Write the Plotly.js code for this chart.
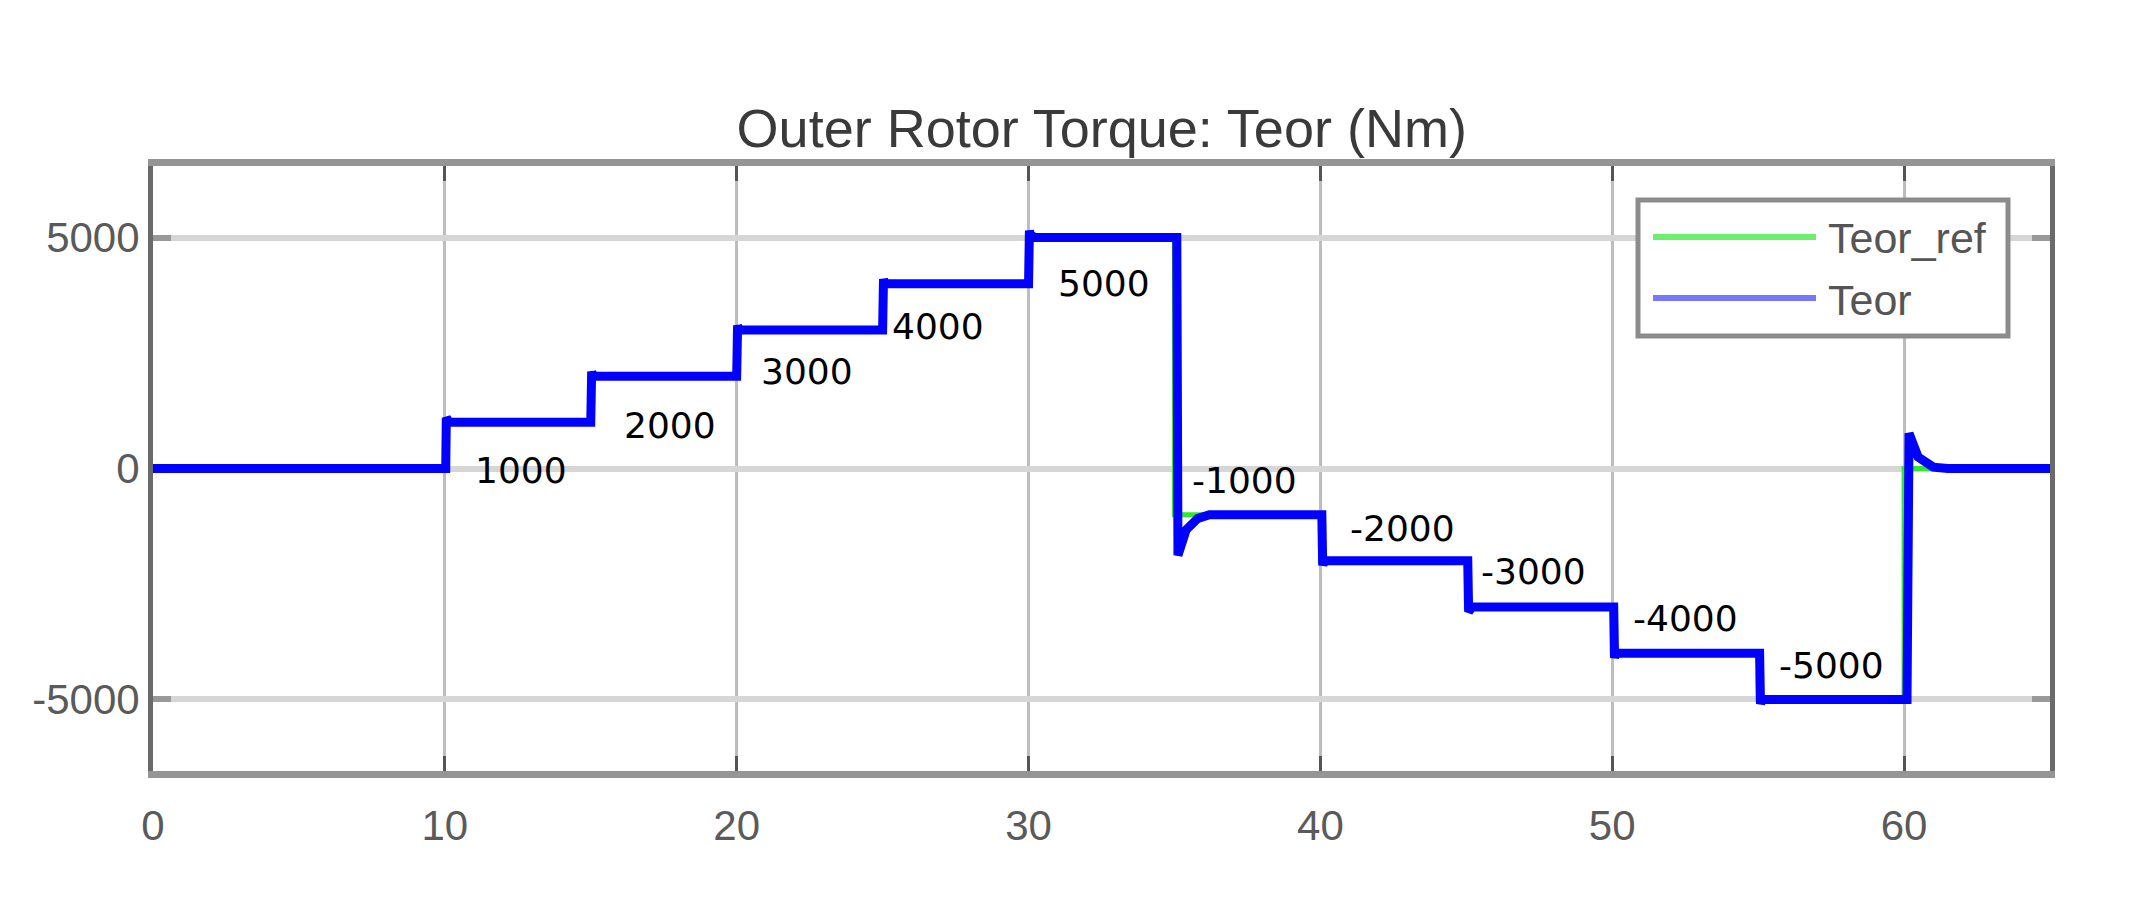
<!DOCTYPE html>
<html lang="en">

<head>
    <meta charset="UTF-8">
    <title>Outer Rotor Torque</title>
    <script src="https://cdn.plot.ly/plotly-3.0.1.min.js" charset="utf-8"></script>
    <style>
        body { margin: 0; background: #fff; }
    </style>
</head>

<body>
    <div id="plot" style="width: 2131px; height: 899px;"></div>

    <script>
        // reference torque, a plain staircase (s, Nm)
        const refTime = [0, 10, 10, 15, 15, 20, 20, 25, 25, 30, 30, 35, 35, 40, 40, 45, 45, 50, 50, 55, 55, 60, 60, 65];
        const refTorque = [0, 0, 1000, 1000, 2000, 2000, 3000, 3000, 4000, 4000, 5000, 5000,
            -1000, -1000, -2000, -2000, -3000, -3000, -4000, -4000, -5000, -5000, 0, 0];

        const teorTime = [0, 10.03, 10.05, 10.15, 15, 15.03, 15.05, 15.15, 20, 20.03, 20.05, 20.15,
            25, 25.03, 25.05, 25.15, 30, 30.03, 30.05, 30.2, 35.08, 35.12, 35.4, 35.8, 36.2, 40.05,
            40.08, 40.1, 40.2, 45.05, 45.08, 45.1, 45.2, 50.05, 50.08, 50.1, 50.2, 55.05, 55.08,
            55.1, 55.2, 60.1, 60.17, 60.48, 61.0, 61.5, 65];
        const teorTorque = [0, 0, 1100, 1000, 1000, 2100, 2050, 2000, 2000, 3100, 3050, 3000,
            3000, 4100, 4050, 4000, 4000, 5150, 5080, 5000, 5000, -1880, -1330, -1080, -1000, -1000,
            -2100, -2050, -2000, -2000, -3100, -3050, -3000, -3000, -4100, -4050, -4000, -4000, -5100,
            -5050, -5000, -5000, 760, 250, 30, 0, 0];

        // step labels written on the chart
        const stepLabels = ['1000', '2000', '3000', '4000', '5000', '-1000', '-2000', '-3000', '-4000', '-5000'];
        const labelTime = [12.6, 17.7, 22.4, 26.9, 32.6, 37.4, 42.8, 47.3, 52.5, 57.5];
        const labelTorque = [-50, 940, 2090, 3070, 4000, -270, -1290, -2220, -3240, -4260];

        const xTicks = [0, 10, 20, 30, 40, 50, 60];
        const yTickVals = [-5000, 0, 5000];
        const yTickText = ['-5000', '0', '5000'];

        const seriesNames = ['Teor_ref', 'Teor'];

        // plot area in pixels, used for the hand drawn legend box
        const plotL = 153, plotR = 2050, plotT = 166, plotB = 771;
        const px = x => (x - plotL) / (plotR - plotL);
        const py = y => (plotB - y) / (plotB - plotT);

        const refTrace = {
            x: refTime,
            y: refTorque,
            type: 'scatter',
            mode: 'lines',
            name: seriesNames[0],
            line: { color: '#33e633', width: 5 },
            showlegend: false,
        };

        const teorTrace = {
            x: teorTime,
            y: teorTorque,
            type: 'scatter',
            mode: 'lines',
            name: seriesNames[1],
            line: { color: '#0000ff', width: 9 },
            showlegend: false,
        };

        const annotations = stepLabels.map((txt, i) => ({
            x: labelTime[i],
            y: labelTorque[i],
            text: txt,
            showarrow: false,
            xanchor: 'center',
            yanchor: 'middle',
            font: { family: 'DejaVu Sans', size: 36, color: '#000' },
        }));

        // legend texts
        annotations.push(
            {
                xref: 'paper', yref: 'paper', x: px(1826), y: py(238), text: seriesNames[0],
                showarrow: false, xanchor: 'left', yanchor: 'middle',
                font: { family: 'Liberation Sans', size: 43, color: '#555' }
            },
            {
                xref: 'paper', yref: 'paper', x: px(1826), y: py(300), text: seriesNames[1],
                showarrow: false, xanchor: 'left', yanchor: 'middle',
                font: { family: 'Liberation Sans', size: 43, color: '#555' }
            }
        );

        const shapes = [
            {
                type: 'rect', xref: 'paper', yref: 'paper',
                x0: px(1638), x1: px(2008), y0: py(336), y1: py(200),
                fillcolor: '#fff', line: { color: '#8c8c8c', width: 5 }
            },
            {
                type: 'line', xref: 'paper', yref: 'paper',
                x0: px(1653), x1: px(1816), y0: py(237), y1: py(237),
                line: { color: '#6cf06c', width: 6 }
            },
            {
                type: 'line', xref: 'paper', yref: 'paper',
                x0: px(1653), x1: px(1816), y0: py(298), y1: py(298),
                line: { color: '#7676ff', width: 6 }
            }
        ];

        const layout = {
            width: 2131,
            height: 899,
            margin: { l: plotL, r: 2131 - plotR, t: plotT, b: 899 - plotB },
            paper_bgcolor: '#fff',
            plot_bgcolor: '#fff',
            title: {
                text: 'Outer Rotor Torque: Teor (Nm)',
                font: { family: 'Liberation Sans', size: 54, color: '#3a3a3a' },
                x: 0.517, xanchor: 'center',
                y: 1 - 128 / 899, yanchor: 'middle', yref: 'container'
            },
            xaxis: {
                range: [0, 65],
                tickvals: xTicks,
                showgrid: true,
                gridcolor: '#bdbdbd',
                gridwidth: 3,
                zeroline: false,
                showline: true,
                linecolor: '#959595',
                linewidth: 7,
                mirror: 'ticks',
                ticks: 'inside',
                ticklen: 15,
                tickwidth: 3,
                tickcolor: '#555',
                ticklabelstandoff: 12,
                tickfont: { family: 'Liberation Sans', size: 42, color: '#5a5a5a' },
            },
            yaxis: {
                range: [-6550, 6550],
                tickvals: yTickVals,
                ticktext: yTickText,
                showgrid: true,
                gridcolor: '#d6d6d6',
                gridwidth: 6,
                zeroline: false,
                showline: true,
                linecolor: '#6a6a6a',
                linewidth: 5,
                mirror: 'ticks',
                ticks: 'inside',
                ticklen: 18,
                tickwidth: 6,
                tickcolor: '#999',
                layer: 'below traces',
                ticklabelstandoff: 0,
                tickfont: { family: 'Liberation Sans', size: 42, color: '#5a5a5a' },
            },
            showlegend: false,
            annotations: annotations,
            shapes: shapes,
        };

        Plotly.newPlot('plot', [refTrace, teorTrace], layout, { staticPlot: true });
    </script>
</body>

</html>
